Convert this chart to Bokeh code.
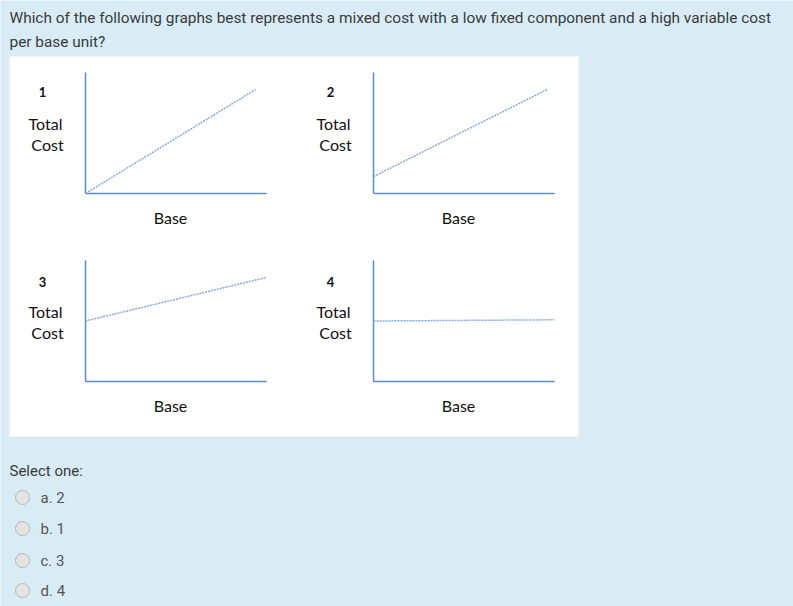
from bokeh.plotting import figure
from bokeh.models import Range1d
from bokeh.embed import file_html
from bokeh.resources import INLINE
from bokeh.core.properties import value

# ---- data ----
question = ["Which of the following graphs best represents a mixed cost with a low fixed component and a high variable cost",
            "per base unit?"]
panel_ids = ["1", "2", "3", "4"]
fixed_cost = [0, 14, 50, 50]          # intercept, % of axis height
end_cost = [86, 86, 86, 51]           # value at line end, % of axis height
end_base = [94, 96, 100, 100]         # line end along base, % of axis width
y_label = ["Total", "Cost"]
x_label = "Base"
prompt = "Select one:"
options = ["a. 2", "b. 1", "c. 3", "d. 4"]

# ---- layout (page pixels) ----
BG = "#d9ecf6"
W, H = 793, 606
p = figure(width=W, height=H, output_backend="svg", toolbar_location=None,
           x_range=Range1d(0, W), y_range=Range1d(H, 0),
           min_border=0, background_fill_color=BG, border_fill_color=BG,
           outline_line_color=None)
p.axis.visible = False
p.grid.visible = False

# white card
p.quad(left=[9], right=[578], top=[56], bottom=[436], fill_color="white", line_color=None)

# question
p.text(x=[9, 9], y=[17, 41], text=question, text_font=value("Roboto"), text_font_size="15.4px",
       text_color="#3a3a3a", text_baseline="middle", text_align="left")

origins_x = [85, 373, 85, 373]
origins_y = [193, 193, 381, 381]
ax_w, ax_h = 181, 121
axis_col = "#5b8ad4"
line_col = "#86a9dd"
lab_font = value("Lato")

for i, pid in enumerate(panel_ids):
    ox, oy = origins_x[i], origins_y[i]
    # axes
    p.line([ox, ox], [oy - ax_h, oy], line_color=axis_col, line_width=1.5)
    p.line([ox, ox + ax_w], [oy, oy], line_color=axis_col, line_width=1.5)
    # cost line
    xs = [ox, ox + ax_w * end_base[i] / 100]
    ys = [oy - ax_h * fixed_cost[i] / 100, oy - ax_h * end_cost[i] / 100]
    p.line(xs, ys, line_color=line_col, line_width=1.5, line_dash="2 1")
    # labels
    lx = ox - 40
    dy = 0 if i < 2 else 2
    p.text(x=[lx - 3], y=[oy - 102 + dy], text=[pid], text_font=lab_font, text_font_style="bold",
           text_font_size="13px", text_color="#111111", text_align="center", text_baseline="middle")
    p.text(x=[lx, lx + 2], y=[oy - 70, oy - 49], text=y_label, text_font=lab_font,
           text_font_size="16px", text_color="#111111", text_align="center", text_baseline="middle")
    p.text(x=[ox + 85], y=[oy + 24], text=[x_label], text_font=lab_font,
           text_font_size="16px", text_color="#111111", text_align="center", text_baseline="middle")

# select one
p.text(x=[9], y=[470], text=[prompt], text_font=value("Roboto"), text_font_size="15px",
       text_color="#3a3a3a", text_baseline="middle", text_align="left")
opt_y = [497, 528, 560, 590]
p.scatter(x=[22] * len(options), y=opt_y, size=14, fill_color="#e4e4e4", line_color="#b5b5b5")
p.text(x=[40] * len(options), y=opt_y, text=options, text_font=value("Roboto"), text_font_size="15px",
       text_color="#555555", text_baseline="middle", text_align="left")

open("out.html", "w").write(file_html(p, INLINE))
